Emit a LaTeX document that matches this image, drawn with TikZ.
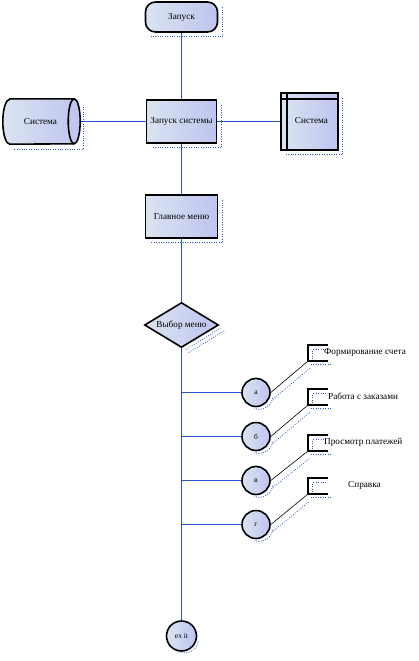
\documentclass[tikz,border=0pt]{standalone}
\usepackage{fontspec}
\setmainfont{Liberation Serif}
\usetikzlibrary{calc}
\definecolor{conn}{RGB}{40,80,210}
\definecolor{fillL}{RGB}{218,228,240}
\definecolor{fillR}{RGB}{190,196,240}
\definecolor{shd}{RGB}{40,90,210}
\pgfdeclarelayer{bg}
\pgfsetlayers{bg,main}
\begin{document}
\begin{tikzpicture}[x=1pt,y=-1pt,
  every node/.style={font=\fontsize{9.2}{11}\selectfont, inner sep=0pt},
  shapefill/.style={draw=black, line width=1.6pt, left color=fillL, right color=fillR},
  box/.style={shapefill, rectangle, minimum width=#1},
  term/.style={shapefill, rectangle, rounded corners=10pt, minimum width=72pt, minimum height=30pt},
  ghost/.style={rectangle, draw=none},
  bub/.style={shapefill, circle, minimum size=28pt, font=\fontsize{7.5}{8}\selectfont},
  conline/.style={draw=conn, line width=0.9pt},
  leader/.style={draw=black, line width=0.6pt},
  shadowline/.style={draw=shd, line width=0.8pt, dash pattern=on 0.8pt off 1.6pt},
  bracketline/.style={draw=black, line width=1.6pt},
  edge/.style={line width=1.6pt, draw=black}
]
\useasboundingbox (0,0) rectangle (418,661);

% nodes
\node[term] (start) at (181.5,17) {Запуск};
\node[ghost, minimum width=77pt, minimum height=45pt] (sysL) at (41.5,121.5) {};
\node[box=70pt, minimum height=43pt] (run) at (181.5,121.5) {Запуск системы};
\node[box=57pt, minimum height=57pt] (sysR) at (309.5,121.5) {};
\node[box=72pt, minimum height=43pt] (menu) at (181.5,216.5) {Главное меню};
\node[ghost, minimum width=73pt, minimum height=44pt] (choice) at (181.5,325) {};
\node[bub] (a) at (256,392.5) {а};
\node[bub] (b) at (256,436.5) {б};
\node[bub] (c) at (256,480.5) {в};
\node[bub] (d) at (256,524.5) {г};
\node[bub, minimum size=30pt] (exit) at (181.5,636) {ex it};

% cylinder (left Система)
\path[shapefill] ($(sysL.north west)+(7,0)$) -- ($(sysL.north east)+(-6,0)$)
  arc[start angle=-90, end angle=90, x radius=6, y radius=22.5]
  -- ($(sysL.south west)+(7,0)$)
  arc[start angle=90, end angle=270, x radius=7, y radius=22.5] -- cycle;
\draw[edge] ($(sysL.north east)+(-6,0)$)
  arc[start angle=-90, end angle=-270, x radius=6, y radius=22.5];
\node at ($(sysL.center)+(-1,0)$) {Система};

% storage (right Система)
\draw[edge] ($(sysR.north west)+(0,7)$) -- ($(sysR.north east)+(0,7)$);
\draw[edge] ($(sysR.north west)+(7,0)$) -- ($(sysR.south west)+(7,0)$);
\node at ($(sysR.center)+(2,-1)$) {Система};

% decision diamond
\path[shapefill] (choice.west) -- (choice.north) -- (choice.east) -- (choice.south) -- cycle;
\node at (choice.center) {Выбор меню};

% brackets and their texts
\foreach \n/\y in {k1/353, k2/397, k3/443, k4/486}{
  \node[ghost, minimum width=20pt, minimum height=16pt] (\n) at (318,\y) {};
  \draw[bracketline] (\n.north east) -- (\n.north west) -- (\n.south west) -- (\n.south east);
  \draw[shadowline] ($(\n.north east)+(-2,5)$) -- ($(\n.north west)+(5,5)$) -- ($(\n.south west)+(5,-2)$);
  \draw[shadowline] ($(\n.south west)+(3,3)$) -- ($(\n.south east)+(3,3)$);
}
\node[anchor=west] (t1) at (324,352) {Формирование счета};
\node[anchor=west] (t2) at (328,396) {Работа с заказами};
\node[anchor=west] (t3) at (324,442) {Просмотр платежей};
\node[anchor=west] (t4) at (348,485) {Справка};

% branch points on the main line
\coordinate (p1) at (181.5,392.5);
\coordinate (p2) at (181.5,436.5);
\coordinate (p3) at (181.5,480.5);
\coordinate (p4) at (181.5,524.5);

\begin{pgfonlayer}{bg}
  \fill[white] (0,0) rectangle (418,661);
  % connectors
  \draw[conline] (start.south) -- (run.north);
  \draw[conline] (run.south) -- (menu.north);
  \draw[conline] (menu.south) -- (choice.north);
  \draw[conline] (choice.south) -- (exit.north);
  \draw[conline] (sysL.east) -- (run.west);
  \draw[conline] (run.east) -- (sysR.west);
  \draw[conline] (p1) -- (a.west);
  \draw[conline] (p2) -- (b.west);
  \draw[conline] (p3) -- (c.west);
  \draw[conline] (p4) -- (d.west);
  % leaders to the brackets
  \foreach \s/\k in {a/k1, b/k2, c/k3, d/k4}{
    \draw[leader] (\s.east) -- (\k.south west);
    \draw[shadowline] ($(\s.east)+(2,7)$) -- ($(\k.south west)+(2,7)$);
  }
  % shadows
  \foreach \n in {start, run, sysR, menu}{
    \draw[shadowline] ($(\n.north east)+(4,6)$) -- ($(\n.south east)+(4,4)$) -- ($(\n.south west)+(6,4)$);
  }
  \draw[shadowline] ($(sysL.north east)+(3,8)$) -- ($(sysL.south east)+(3,5)$) -- ($(sysL.south west)+(10,5)$);
  \draw[shadowline] ($(choice.east)+(3,3)$) -- ($(choice.south)+(3,3)$);
  \draw[shadowline] ($(choice.east)+(6,6)$) -- ($(choice.south)+(6,6)$);
  \foreach \n in {a, b, c, d, exit}{
    \draw[shadowline] ($(\n.center)+(3,3)$) ++(10:14) arc[start angle=10, end angle=110, radius=14];
  }
\end{pgfonlayer}
\end{tikzpicture}
\end{document}
